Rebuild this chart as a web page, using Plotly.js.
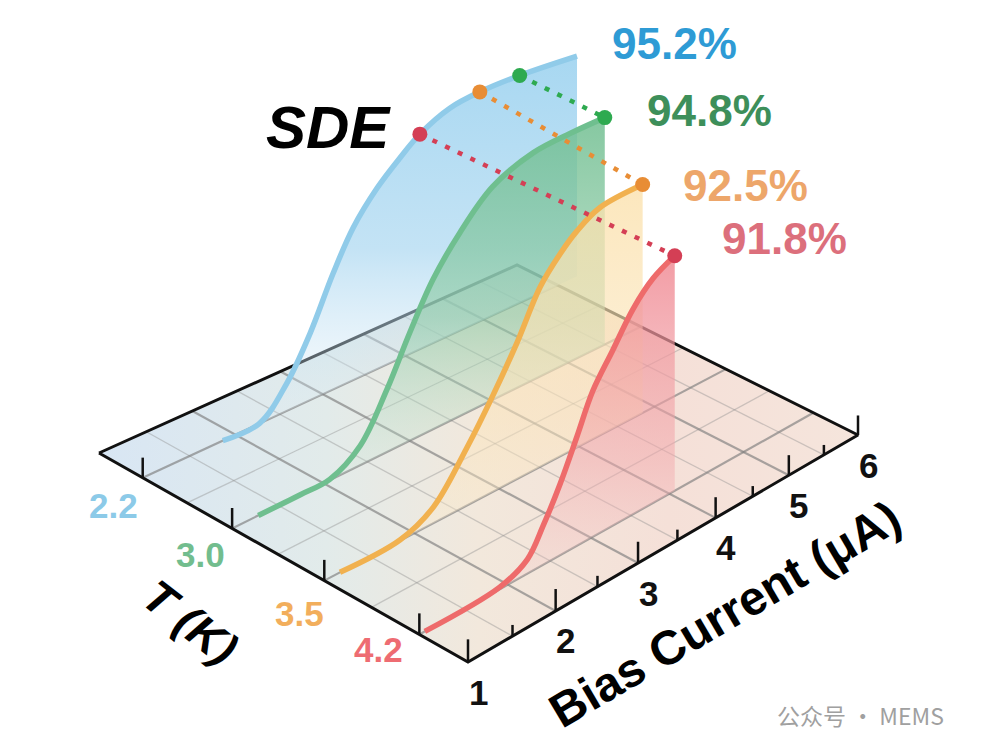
<!DOCTYPE html>
<html><head><meta charset="utf-8">
<script src="https://cdn.plot.ly/plotly-3.0.1.min.js"></script>
<style>html,body{margin:0;padding:0;background:#fff;}#chart{width:983px;height:754px;}</style>
</head><body><div id="chart"></div>
<script>
// ---------------- data ----------------
const temps = ['2.2', '3.0', '3.5', '4.2'];
const bias22 = [1.86, 2.27, 2.58, 2.85, 3.12, 3.36, 3.65, 3.93, 4.18, 4.56, 4.95, 5.48, 6.27];
const sde22  = [0, 0.1, 10.8, 26.3, 46.0, 60.9, 72.9, 81.4, 87.9, 93.8, 95.8, 96.3, 95.2];
const bias30 = [1.28, 1.74, 2.07, 2.42, 2.73, 3.00, 3.28, 3.61, 4.02, 4.54, 5.07, 5.50];
const sde30  = [0, 0, 0.3, 7.5, 24.2, 42.1, 58.8, 72.7, 85.5, 92.4, 94.2, 94.8];
const bias35 = [1.17, 1.84, 2.22, 2.61, 2.93, 3.22, 3.51, 3.76, 3.97, 4.27, 4.84];
const sde35  = [0, 0.3, 6.0, 21.8, 37.2, 52.8, 70.3, 79.6, 85.5, 90.8, 92.5];
const bias42 = [1.06, 1.91, 2.23, 2.42, 2.62, 2.83, 3.02, 3.27, 3.53, 3.79, 4.07];
const sde42  = [0, 0.8, 5.3, 14.7, 26.6, 41.4, 55.2, 66.9, 79.0, 87.1, 91.8];
const peakLabels = ['95.2%', '94.8%', '92.5%', '91.8%'];
const biasTicks = [1, 2, 3, 4, 5, 6];
const biasMinorTicks = [1.5, 2.5, 3.5, 4.5, 5.5];

// ---------------- styles ----------------
const FONT = 'Liberation Sans, Arial, sans-serif';
const lineColors = ['#90cbe9', '#6fbf8f', '#f1b14f', '#ee6b6b'];
const curtainScales = [
  [[0, 'rgba(160,212,240,0.92)'], [0.5, 'rgba(172,216,241,0.72)'], [1, 'rgba(228,239,247,0.12)']],
  [[0, 'rgba(112,190,144,0.85)'], [0.5, 'rgba(138,201,164,0.6)'], [1, 'rgba(215,236,224,0.08)']],
  [[0, 'rgba(251,225,172,0.8)'], [0.6, 'rgba(251,229,188,0.55)'], [1, 'rgba(251,234,205,0.25)']],
  [[0, 'rgba(240,138,148,0.85)'], [0.55, 'rgba(242,168,172,0.5)'], [1, 'rgba(245,210,208,0.1)']]
];
const tickLabelColors = ['#8ccae8', '#72bd8e', '#f2ae5c', '#ee6c72'];
const tickLabelShift = [[-29, -28], [-32, -26], [-25, -33], [-41, -15]];
const pctColors = ['#2e9bd5', '#3d8f5a', '#eda66a', '#dc6f7c'];
const pctShift = [[33, 13], [40, 7], [38, -1], [45, 17]];
const dotColors = ['#5ab0e0', '#2eaa50', '#e88d35', '#d43f55'];
const floorScale = [[0, '#d8e6f4'], [0.3, '#e2ebea'], [0.5, '#f2e8dc'], [0.75, '#f5e0d8'], [1, '#f5e5dc']];

// camera: screen position of the four floor corners and pixels per SDE unit at the front corner
const CAM = {front: [468, 662], right: [858, 435], back: [517, 265], left: [99, 453], zPx: 2.83};

// ---------------- projection (square -> quad homography) ----------------
const [x0, y0] = CAM.front, [x1, y1] = CAM.right, [x2, y2] = CAM.back, [x3, y3] = CAM.left;
const dx1 = x1 - x2, dx2 = x3 - x2, dx3 = x0 - x1 + x2 - x3;
const dy1 = y1 - y2, dy2 = y3 - y2, dy3 = y0 - y1 + y2 - y3;
const den = dx1 * dy2 - dx2 * dy1;
const G = (dx3 * dy2 - dx2 * dy3) / den, Hh = (dx1 * dy3 - dx3 * dy1) / den;
const A = x1 - x0 + G * x1, B = x3 - x0 + Hh * x3, C = x0;
const D = y1 - y0 + G * y1, E = y3 - y0 + Hh * y3, F = y0;
const xMin = biasTicks[0], xMax = biasTicks[biasTicks.length - 1];
const nT = temps.length;
function project(xb, ti, z) {
  const u = (xb - xMin) / (xMax - xMin);
  const v = (nT - 0.5 - ti) / nT;
  const w = G * u + Hh * v + 1;
  return [(A * u + B * v + C) / w, (D * u + E * v + F - CAM.zPx * z) / w];
}
function polyline(pts) {
  const X = [], Y = [];
  pts.forEach(p => { if (p === null) { X.push(null); Y.push(null); } else { const q = project(p[0], p[1], p[2]); X.push(q[0]); Y.push(q[1]); } });
  return {x: X, y: Y};
}
const base = {type: 'scatter', hoverinfo: 'skip', showlegend: false, cliponaxis: false};

const traces = [];
// floor
const tFront = nT - 0.5, tBack = -0.5;
const floorPts = polyline([[xMin, tBack, 0], [xMin, tFront, 0], [xMax, tFront, 0], [xMax, tBack, 0], [xMin, tBack, 0]]);
traces.push(Object.assign({}, base, floorPts, {mode: 'lines', fill: 'toself', line: {width: 0},
  fillgradient: {type: 'horizontal', colorscale: floorScale}}));
// grid
function gridSegs(xs, ts) {
  const pts = [];
  xs.forEach(v => pts.push([v, tBack, 0], [v, tFront, 0], null));
  ts.forEach(t => pts.push([xMin, t, 0], [xMax, t, 0], null));
  return polyline(pts);
}
const tIdx = temps.map((t, i) => i);
const tHalf = tIdx.slice(0, -1).map(i => i + 0.5);
traces.push(Object.assign({}, base, gridSegs(biasMinorTicks, tHalf), {mode: 'lines', line: {color: 'rgba(140,140,140,0.4)', width: 1.3}}));
traces.push(Object.assign({}, base, gridSegs(biasTicks.slice(1, -1), tIdx), {mode: 'lines', line: {color: 'rgba(125,125,125,0.65)', width: 2.2}}));
// floor border
traces.push(Object.assign({}, base, floorPts, {mode: 'lines', line: {color: '#111', width: 3}}));
// ticks (vertical)
function tickSegs(list) { const pts = []; list.forEach(p => pts.push([p[0], p[1], 0], [p[0], p[1], p[2]], null)); return polyline(pts); }
traces.push(Object.assign({}, base, tickSegs(biasTicks.map(v => [v, tFront, 8])), {mode: 'lines', line: {color: '#111', width: 2.5}}));
traces.push(Object.assign({}, base, tickSegs(biasMinorTicks.map(v => [v, tFront, 4])), {mode: 'lines', line: {color: '#111', width: 2.5}}));
traces.push(Object.assign({}, base, tickSegs(tIdx.map(i => [xMin, i, 7.5])), {mode: 'lines', line: {color: '#111', width: 2.5}}));

// curtains + curves, back to front
const seriesBias = [bias22, bias30, bias35, bias42];
const seriesSde = [sde22, sde30, sde35, sde42];
seriesBias.forEach((b, i) => {
  const s = seriesSde[i];
  const pts = b.map((xb, k) => [xb, i, s[k]]);
  pts.push([b[b.length - 1], i, 0], [b[0], i, 0], [b[0], i, s[0]]);
  const poly = polyline(pts);
  const ys = poly.y;
  traces.push(Object.assign({}, base, poly, {mode: 'lines', fill: 'toself', line: {width: 0},
    fillgradient: {type: 'vertical', colorscale: curtainScales[i], start: Math.min(...ys), stop: Math.max(...ys)}}));
  const curve = polyline(b.map((xb, k) => [xb, i, s[k]]));
  traces.push(Object.assign({}, base, curve, {mode: 'lines', line: {color: lineColors[i], width: 5.5, shape: 'spline', smoothing: 1}}));
});
// dotted connectors: from the nearest 2.2 K point to each curve's end point
for (let i = 1; i < nT; i++) {
  const b = seriesBias[i], s = seriesSde[i];
  const xe = b[b.length - 1], ze = s[s.length - 1];
  let k0 = 0;
  bias22.forEach((v, k) => { if (Math.abs(v - xe) < Math.abs(bias22[k0] - xe)) k0 = k; });
  const seg = polyline([[bias22[k0], 0, sde22[k0]], [xe, i, ze]]);
  traces.push(Object.assign({}, base, seg, {mode: 'lines', line: {color: dotColors[i], width: 4.5, dash: '5px,9px'}}));
  traces.push(Object.assign({}, base, seg, {mode: 'markers', marker: {color: dotColors[i], size: 15, line: {width: 0}}}));
}

// annotations
const ann = [];
temps.forEach((t, i) => {
  const p = project(xMin, i, 0);
  ann.push({x: p[0], y: p[1], text: t, showarrow: false, xanchor: 'center', yanchor: 'middle',
    xshift: tickLabelShift[i][0], yshift: tickLabelShift[i][1],
    font: {family: FONT, size: 35, color: tickLabelColors[i], weight: 'bold'}});
});
biasTicks.forEach(v => {
  const p = project(v, tFront, 0);
  ann.push({x: p[0], y: p[1], text: String(v), showarrow: false, xanchor: 'center', yanchor: 'middle',
    xshift: 10, yshift: -30, font: {family: FONT, size: 35, color: '#111', weight: 'bold'}});
});
seriesBias.forEach((b, i) => {
  const s = seriesSde[i];
  const p = project(b[b.length - 1], i, s[s.length - 1]);
  ann.push({x: p[0], y: p[1], text: peakLabels[i], showarrow: false, xanchor: 'left', yanchor: 'middle',
    xshift: pctShift[i][0], yshift: pctShift[i][1],
    font: {family: FONT, size: 44, color: pctColors[i], weight: 'bold'}});
});
ann.push({xref: 'paper', yref: 'paper', x: 328 / 983, y: 1 - 128 / 754, xanchor: 'center', yanchor: 'middle',
  text: 'SDE', showarrow: false, font: {family: FONT, size: 60, color: '#000', weight: 'bold', style: 'italic'}});
ann.push({xref: 'paper', yref: 'paper', x: 190 / 983, y: 1 - 622 / 754, xanchor: 'center', yanchor: 'middle',
  text: 'T (K)', showarrow: false, textangle: 38, font: {family: FONT, size: 46, color: '#000', weight: 'bold', style: 'italic'}});
ann.push({xref: 'paper', yref: 'paper', x: 724 / 983, y: 1 - 614 / 754, xanchor: 'center', yanchor: 'middle',
  text: 'Bias Current (μA)', showarrow: false, textangle: -30.5, font: {family: FONT, size: 48, color: '#000', weight: 'bold'}});
ann.push({xref: 'paper', yref: 'paper', x: 860 / 983, y: 1 - 715 / 754, xanchor: 'center', yanchor: 'middle',
  text: '公众号 · MEMS', showarrow: false, font: {family: 'Noto Sans CJK SC, Noto Sans, sans-serif', size: 23, color: '#a0a0a0'}});

const layout = {
  width: 983, height: 754, margin: {l: 0, r: 0, t: 0, b: 0},
  paper_bgcolor: '#fff', plot_bgcolor: '#fff', showlegend: false,
  xaxis: {range: [0, 983], visible: false, fixedrange: true},
  yaxis: {range: [754, 0], visible: false, fixedrange: true},
  annotations: ann
};
Plotly.newPlot('chart', traces, layout, {displayModeBar: false, staticPlot: true});
</script></body></html>
